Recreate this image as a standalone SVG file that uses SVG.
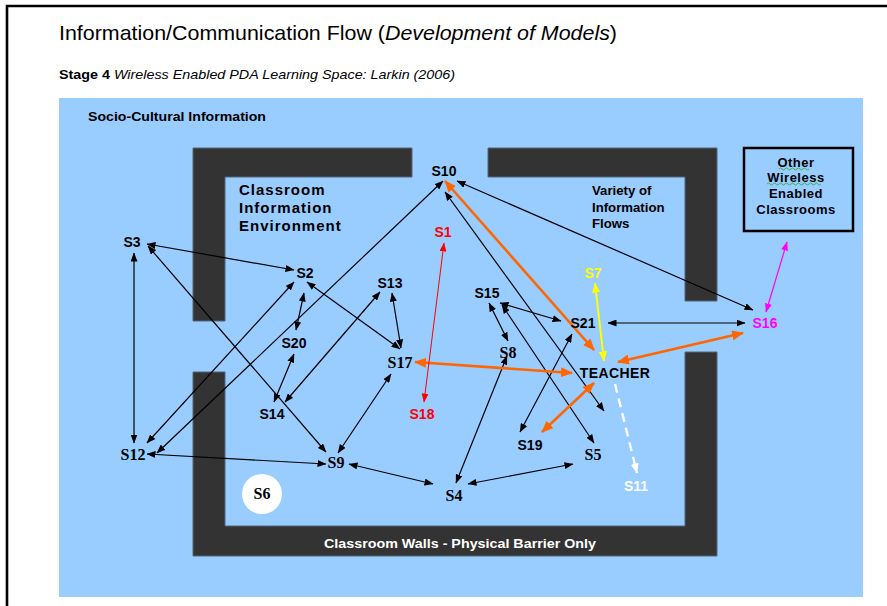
<svg xmlns="http://www.w3.org/2000/svg" width="887" height="606" viewBox="0 0 887 606">
<style>
  .sans { font-family: "Liberation Sans", Arial, sans-serif; }
  .lbl { font-family: "Liberation Sans", Arial, sans-serif; font-weight: bold; font-size: 14px; text-anchor: middle; fill: #000; }
  .lbs { font-family: "Liberation Serif", "Times New Roman", serif; font-weight: bold; font-size: 16px; text-anchor: middle; fill: #000; }
  .wall { fill: #333333; stroke: #556677; stroke-width: 1; }
  .blk { stroke: #000; stroke-width: 1.2; fill: none; marker-start: url(#ab); marker-end: url(#ab); }
  .org { stroke: #FF6600; stroke-width: 2.6; fill: none; marker-start: url(#ao); marker-end: url(#ao); }
</style>
<defs>
  <marker id="ab" markerUnits="userSpaceOnUse" markerWidth="9" markerHeight="7" refX="8.5" refY="3.5" orient="auto-start-reverse">
    <path d="M0,0 L9,3.5 L0,7 z" fill="#000"/>
  </marker>
  <marker id="ao" markerUnits="userSpaceOnUse" markerWidth="12" markerHeight="10" refX="11" refY="5" orient="auto-start-reverse">
    <path d="M0,0 L12,5 L0,10 z" fill="#FF6600"/>
  </marker>
  <marker id="ay" markerUnits="userSpaceOnUse" markerWidth="10" markerHeight="8" refX="9.5" refY="4" orient="auto-start-reverse">
    <path d="M0,0 L10,4 L0,8 z" fill="#FFFF00"/>
  </marker>
  <marker id="ar" markerUnits="userSpaceOnUse" markerWidth="9" markerHeight="7" refX="8.5" refY="3.5" orient="auto-start-reverse">
    <path d="M0,0 L9,3.5 L0,7 z" fill="#FF0000"/>
  </marker>
  <marker id="am" markerUnits="userSpaceOnUse" markerWidth="9" markerHeight="7" refX="8.5" refY="3.5" orient="auto-start-reverse">
    <path d="M0,0 L9,3.5 L0,7 z" fill="#FF00FF"/>
  </marker>
  <marker id="aw" markerUnits="userSpaceOnUse" markerWidth="10" markerHeight="8" refX="9.5" refY="4" orient="auto">
    <path d="M0,0 L10,4 L0,8 z" fill="#FFFFFF"/>
  </marker>
</defs>

<rect x="0" y="0" width="887" height="606" fill="#FFFFFF"/>
<path d="M7,606 V6 H887" fill="none" stroke="#000" stroke-width="2.6"/>

<g id="title">
  <text x="59" y="40" class="sans" font-size="21" fill="#000" textLength="558" lengthAdjust="spacingAndGlyphs">Information/Communication Flow (<tspan font-style="italic">Development of Models</tspan>)</text>
  <text x="59" y="79" class="sans" font-size="13" fill="#000" textLength="396" lengthAdjust="spacingAndGlyphs"><tspan font-weight="bold">Stage 4</tspan> <tspan font-style="italic">Wireless Enabled PDA Learning Space: Larkin (2006)</tspan></text>
</g>

<rect id="space" x="59" y="98" width="804" height="499" fill="#99CCFF"/>

<g id="walls">
  <path class="wall" d="M193,148 H412 V177 H225 V321 H193 Z"/>
  <path class="wall" d="M488,148 H717 V301 H685 V177 H488 Z"/>
  <path class="wall" d="M193,372 H225 V526 H685 V352 H717 V556 H193 Z"/>
  <text x="324" y="548" class="sans" font-size="13.5" font-weight="bold" fill="#FFFFFF" textLength="272" lengthAdjust="spacingAndGlyphs">Classroom Walls - Physical Barrier Only</text>
</g>

<g id="labels">
  <text x="88" y="121" class="sans" font-size="13.5" font-weight="bold" fill="#000" textLength="178" lengthAdjust="spacingAndGlyphs">Socio-Cultural Information</text>
  <g class="sans" font-size="15" font-weight="bold" fill="#000" letter-spacing="1">
    <text x="239" y="195">Classroom</text>
    <text x="239" y="213">Information</text>
    <text x="239" y="231">Environment</text>
  </g>
  <g class="sans" font-size="13.2" font-weight="bold" fill="#000">
    <text x="592" y="195">Variety of</text>
    <text x="592" y="212">Information</text>
    <text x="592" y="228">Flows</text>
  </g>
</g>

<g id="other-classrooms">
  <rect x="744" y="148" width="109" height="83" fill="none" stroke="#000" stroke-width="2.5"/>
  <g class="sans" font-size="13" font-weight="bold" fill="#000" text-anchor="middle" letter-spacing="0.5">
    <text x="796" y="167">Other</text>
    <text x="796" y="182">Wireless</text>
    <text x="796" y="198">Enabled</text>
    <text x="796" y="214">Classrooms</text>
  </g>
  <path d="M779,169 q1.5,-2 3,0 t3,0 t3,0 t3,0 t3,0 t3,0 t3,0 t3,0 t3,0 t3,0" fill="none" stroke="#22AA22" stroke-width="0.8"/>
  <path d="M767,184 q1.5,-2 3,0 t3,0 t3,0 t3,0 t3,0 t3,0 t3,0 t3,0 t3,0 t3,0 t3,0 t3,0 t3,0 t3,0 t3,0 t3,0 t3,0 t3,0" fill="none" stroke="#22AA22" stroke-width="0.8"/>
</g>

<g id="connectors">
  <line class="blk" x1="147" y1="244" x2="294" y2="270"/>
  <line class="blk" x1="134" y1="253" x2="134" y2="443"/>
  <line class="blk" x1="148" y1="246" x2="326" y2="452"/>
  <line class="blk" x1="147" y1="443" x2="294" y2="282"/>
  <line class="blk" x1="157" y1="453" x2="443" y2="181"/>
  <line class="blk" x1="147" y1="454" x2="326" y2="464"/>
  <line class="blk" x1="349" y1="464" x2="433" y2="484"/>
  <line class="blk" x1="338" y1="453" x2="391" y2="374"/>
  <line class="blk" x1="274" y1="402" x2="294" y2="354"/>
  <line class="blk" x1="285" y1="402" x2="380" y2="292"/>
  <line class="blk" x1="304" y1="293" x2="296" y2="330"/>
  <line class="blk" x1="307" y1="282" x2="400" y2="349"/>
  <line class="blk" x1="392" y1="293" x2="401" y2="348"/>
  <line class="blk" x1="507" y1="356" x2="456" y2="483"/>
  <line class="blk" x1="468" y1="484" x2="573" y2="464"/>
  <line class="blk" x1="489" y1="303" x2="508" y2="341"/>
  <line class="blk" x1="500" y1="303" x2="561" y2="321"/>
  <line class="blk" x1="502" y1="305" x2="594" y2="443"/>
  <line class="blk" x1="445" y1="192" x2="604" y2="411"/>
  <line class="blk" x1="572" y1="334" x2="520" y2="432"/>
  <line class="blk" x1="608" y1="323" x2="745" y2="323"/>
  <line class="blk" x1="457" y1="181" x2="753" y2="310"/>
  <line class="org" x1="594" y1="350" x2="445" y2="181"/>
  <line class="org" x1="415" y1="362" x2="572" y2="373"/>
  <line class="org" x1="618" y1="362" x2="743" y2="333"/>
  <line class="org" x1="594" y1="383" x2="542" y2="432"/>
  <line x1="595" y1="283" x2="604" y2="361" stroke="#FFFF00" stroke-width="2" marker-start="url(#ay)" marker-end="url(#ay)"/>
  <line x1="444" y1="243" x2="424" y2="402" stroke="#FF0000" stroke-width="1" marker-start="url(#ar)" marker-end="url(#ar)"/>
  <line x1="787" y1="242" x2="766" y2="312" stroke="#FF00FF" stroke-width="1.2" marker-start="url(#am)" marker-end="url(#am)"/>
  <line x1="615" y1="384" x2="637" y2="473" stroke="#FFFFFF" stroke-width="2.4" stroke-dasharray="9,6" marker-end="url(#aw)"/>
</g>

<g id="nodes">
  <g id="S10"><text class="lbl" x="444" y="176">S10</text></g>
  <g id="S1"><text class="lbl" x="443" y="237" style="fill:#FF0000">S1</text></g>
  <g id="S3"><text class="lbl" x="132" y="247">S3</text></g>
  <g id="S2"><text class="lbl" x="305" y="278">S2</text></g>
  <g id="S13"><text class="lbl" x="390" y="288">S13</text></g>
  <g id="S20"><text class="lbl" x="294" y="348">S20</text></g>
  <g id="S17"><text class="lbs" x="400" y="368">S17</text></g>
  <g id="S14"><text class="lbl" x="272" y="419">S14</text></g>
  <g id="S18"><text class="lbl" x="422" y="419" style="fill:#FF0000">S18</text></g>
  <g id="S12"><text class="lbs" x="133" y="460">S12</text></g>
  <g id="S9"><text class="lbs" x="336" y="468">S9</text></g>
  <g id="S6"><circle cx="262" cy="494" r="20" fill="#FFFFFF"/><text class="lbs" x="262" y="499">S6</text></g>
  <g id="S4"><text class="lbs" x="454" y="501">S4</text></g>
  <g id="S5"><text class="lbs" x="593" y="460">S5</text></g>
  <g id="S19"><text class="lbl" x="530" y="450">S19</text></g>
  <g id="S11"><text class="lbl" x="636" y="491" style="fill:#FFFFFF">S11</text></g>
  <g id="TEACHER"><text class="lbl" x="615" y="378" letter-spacing="0.4">TEACHER</text></g>
  <g id="S8"><text class="lbs" x="508" y="358">S8</text></g>
  <g id="S15"><text class="lbl" x="487" y="298">S15</text></g>
  <g id="S21"><text class="lbl" x="583" y="328">S21</text></g>
  <g id="S7"><text class="lbl" x="593" y="278" style="fill:#FFFF00">S7</text></g>
  <g id="S16"><text class="lbl" x="765" y="328" style="fill:#FF00FF">S16</text></g>
</g>
</svg>
